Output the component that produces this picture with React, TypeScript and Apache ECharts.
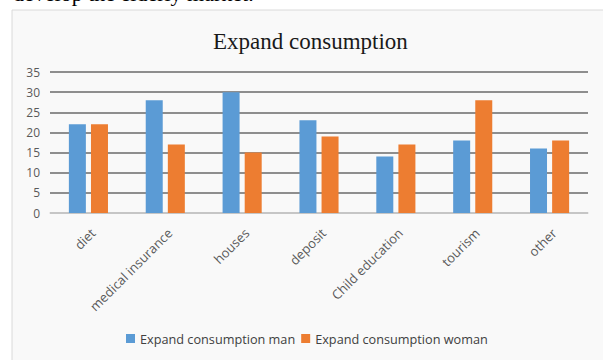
import React, { useEffect, useRef } from "react";
import * as echarts from "echarts";

const categories = ["diet", "medical insurance", "houses", "deposit", "Child education", "tourism", "other"];
const manValues = [22, 28, 30, 23, 14, 18, 16];
const womanValues = [22, 17, 15, 19, 17, 28, 18];
const seriesNames = ["Expand consumption man", "Expand consumption woman"];
const titleText = "Expand consumption";
const topText = "develop the elderly market.";

export default function App() {
  const ref = useRef<HTMLDivElement>(null);
  useEffect(() => {
    if (!ref.current) return;
    const chart = echarts.init(ref.current, null, { renderer: "svg" });
    const labelFont = "'Open Sans', 'Noto Sans', sans-serif";
    chart.setOption({
      animation: false,
      backgroundColor: "#ffffff",
      graphic: [
        {
          type: "rect",
          shape: { x: 12, y: 10, width: 600, height: 360 },
          style: { fill: "#f9f9f9", stroke: "#dadada", lineWidth: 1 },
          z: -10,
          silent: true,
        },
        {
          type: "text",
          x: 13,
          y: 4,
          style: {
            text: topText,
            font: "22px 'Liberation Serif', 'Times New Roman', serif",
            fill: "#000",
            textVerticalAlign: "bottom",
            verticalAlign: "bottom",
          },
        },
      ],
      title: {
        text: titleText,
        left: 208,
        top: 25,
        textStyle: {
          fontFamily: "'Liberation Serif', 'Times New Roman', serif",
          fontSize: 23,
          fontWeight: "normal",
          color: "#1a1a1a",
        },
      },
      legend: {
        bottom: 10,
        left: 121,
        itemWidth: 9,
        itemHeight: 9,
        itemGap: 6,
        icon: "rect",
        textStyle: { fontFamily: labelFont, fontSize: 12.7, color: "#404040" },
        data: seriesNames,
      },
      grid: {
        left: 50,
        right: 15,
        top: 72,
        bottom: 147,
        containLabel: false,
        outerBoundsMode: "none",
      },
      xAxis: {
        type: "category",
        data: categories,
        axisLine: { lineStyle: { color: "#d9d9d9", width: 1.5 } },
        axisTick: { show: false },
        axisLabel: {
          rotate: 45,
          interval: 0,
          margin: 13,
          verticalAlign: "top",
          fontFamily: labelFont,
          fontSize: 13,
          color: "#595959",
        },
      },
      yAxis: {
        type: "value",
        min: 0,
        max: 35,
        interval: 5,
        axisLine: { show: false },
        axisTick: { show: false },
        axisLabel: { fontFamily: labelFont, fontSize: 12, color: "#595959", margin: 10 },
        splitLine: { lineStyle: { color: "#6a6a6a", width: 1.5 } },
      },
      series: [
        {
          name: seriesNames[0],
          type: "bar",
          data: manValues,
          barWidth: 17,
          barGap: "30%",
          itemStyle: { color: "#5b9bd5" },
        },
        {
          name: seriesNames[1],
          type: "bar",
          data: womanValues,
          barWidth: 17,
          barGap: "30%",
          itemStyle: { color: "#ed7d31" },
        },
      ],
    });
    return () => chart.dispose();
  }, []);
  return (
    <div style={{ position: "fixed", left: 0, top: 0, width: 603, height: 360, background: "#fff" }}>
      <div ref={ref} style={{ width: 603, height: 360 }} />
    </div>
  );
}
